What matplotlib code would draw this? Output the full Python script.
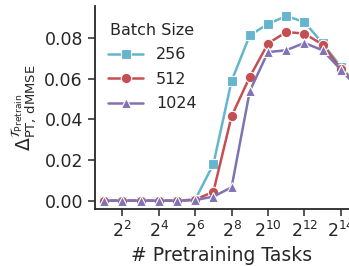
import numpy as np
import matplotlib
matplotlib.use("Agg")
import matplotlib.pyplot as plt
import seaborn as sns

sns.set_theme(style="ticks")
plt.rcParams['font.family'] = ['DejaVu Sans']
plt.rcParams['mathtext.fontset'] = 'dejavusans'

exponents = [1, 2, 3, 4, 5, 6, 7, 8, 9, 10, 11, 12, 13, 14, 15]
tasks = [2 ** e for e in exponents]
batch_sizes = ["256", "512", "1024"]
delta_256 = [0, 0, 0, 0, 0, 0.0005, 0.018, 0.059, 0.0815, 0.087, 0.091, 0.088, 0.0775, 0.066, 0.056]
delta_512 = [0, 0, 0, 0, 0, 0.0005, 0.0044, 0.0416, 0.061, 0.0774, 0.0831, 0.0823, 0.0769, 0.065, 0.056]
delta_1024 = [0, 0, 0, 0, 0, 0.0003, 0.002, 0.0066, 0.054, 0.0732, 0.0741, 0.0777, 0.0741, 0.0645, 0.055]
x_tick_exps = [2, 4, 6, 8, 10, 12, 14]
y_ticks = [0.00, 0.02, 0.04, 0.06, 0.08]

colors = ["#64b5cd", "#c44e52", "#8172b3"]
markers = ["s", "o", "^"]
series = [delta_256, delta_512, delta_1024]

fig = plt.figure(figsize=(3.49, 2.66), dpi=100)
ax = fig.add_axes([0.2713, 0.2143, 0.7287, 0.7631])
for lab, vals, c, m in zip(batch_sizes, series, colors, markers):
    ax.plot(tasks, vals, color=c, marker=m, ms=7.5, lw=1.8, mec="white", mew=0.8, label=lab, clip_on=True)

ax.set_xscale("log", base=2)
ax.set_xlim(2 ** 0.48, 2 ** 14.45)
ax.set_ylim(-0.0041, 0.0959)
ax.set_xticks([2 ** e for e in x_tick_exps])
ax.set_xticklabels([f"$2^{{{e}}}$" for e in x_tick_exps])
ax.minorticks_off()
ax.set_yticks(y_ticks)
ax.set_yticklabels([f"{v:.2f}" for v in y_ticks])
ax.tick_params(labelsize=12.5, length=5, width=1.1, colors="#262626")
for s in ["top", "right"]:
    ax.spines[s].set_visible(False)
for s in ["left", "bottom"]:
    ax.spines[s].set_linewidth(1.3)
    ax.spines[s].set_color("#262626")

ax.set_xlabel("# Pretraining Tasks", fontsize=13.5, color="#262626", labelpad=4)
ax.set_ylabel(r"$\Delta^{\mathcal{T}_{\mathrm{Pretrain}}}_{\mathrm{PT,\,dMMSE}}$", fontsize=13.5, color="#262626", labelpad=4)

leg = ax.legend(title="Batch Size", loc="upper left", bbox_to_anchor=(0.015, 0.965), frameon=False,
                fontsize=11.5, title_fontsize=11.5, handlelength=2.2, labelspacing=0.6, borderaxespad=0.2)
for t in leg.get_texts():
    t.set_color("#262626")
leg.get_title().set_color("#262626")

fig.savefig("out.png", dpi=100)
